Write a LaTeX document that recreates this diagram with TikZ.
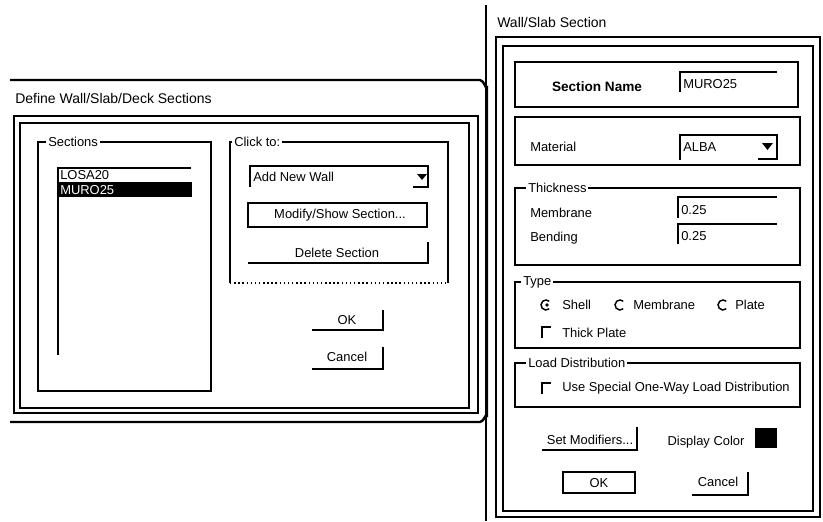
\documentclass[tikz,border=0pt]{standalone}
\usepackage{fontspec}
\setmainfont{Liberation Sans}
\usepackage{tikz}

\begin{document}
\begin{tikzpicture}
  [x=0.75pt,y=-0.75pt,
   win/.style={draw,line width=1.8pt},
   frame/.style={draw,line width=1.1pt},
   edge/.style={draw,line width=1.3pt},
   txt/.style={font=\fontsize{9.7}{11}\selectfont,inner sep=0pt,anchor=west},
   grp/.style={txt,fill=white,inner xsep=1.5pt},
   ttl/.style={font=\fontsize{10.5}{12}\selectfont,inner sep=0pt,anchor=west},
   btn/.style={font=\fontsize{9.7}{11}\selectfont,inner sep=0pt}]
  \useasboundingbox (0,0) rectangle (823,521);

  % Define Wall/Slab/Deck Sections
  \draw[win] (10,80) -- (480,80) to[out=0,in=-90] (487,88) -- (487,415) to[out=90,in=0] (480,422) -- (10,422);
  \node[ttl] (title_define) at (15,98) {Define Wall/Slab/Deck Sections};
  \draw[frame] (14,116) rectangle (478,413);
  \draw[frame] (20,123) rectangle (469,408);

  \draw[frame] (38,142) rectangle (211,391);
  \node[grp] (lbl_sections) at (46,142) {Sections};
  \draw[edge] (58,355) -- (58,168) -- (191,168);
  \node[txt] (item_losa) at (60,175) {LOSA20};
  \fill (59,182) rectangle (192,197);
  \node[txt,text=white] (item_muro) at (60,190) {MURO25};

  \draw[frame] (230,283) -- (230,142) -- (448,142) -- (448,283);
  \draw[frame,dotted] (230,283) -- (448,283);
  \node[grp] (lbl_clickto) at (232,142) {Click to:};
  \draw[edge] (250,187) -- (250,166) -- (428,166) -- (428,187) -- (413,187);
  \fill (417,174) -- (427,174) -- (422,180) -- cycle;
  \node[txt] (combo_add) at (253,177) {Add New Wall};
  \draw[edge,line width=1.6pt] (248,203) rectangle (427,227);
  \node[btn] (btn_modify) at (340,215) {Modify/Show Section...};
  \draw[edge] (248,263) -- (428,263) -- (428,242);
  \node[btn] (btn_delete) at (337,253) {Delete Section};

  \draw[edge] (312,330) -- (383,330) -- (383,310);
  \node[btn] (btn_ok1) at (347,320) {OK};
  \draw[edge] (312,369) -- (383,369) -- (383,347);
  \node[btn] (btn_cancel1) at (347,357) {Cancel};

  % Wall/Slab Section
  \draw[win] (486,5) -- (486,521);
  \node[ttl] (title_wall) at (497,22) {Wall/Slab Section};
  \draw[frame] (496,37) rectangle (820,517);
  \draw[frame] (503,46) rectangle (813,511);

  \draw[frame] (515,62) rectangle (798,107);
  \node[btn,font=\fontsize{10.2}{12}\selectfont\bfseries] (lbl_name) at (597,87) {Section Name};
  \draw[edge] (680,92) -- (680,72) -- (777,72);
  \node[txt] (field_name) at (683,84) {MURO25};

  \draw[frame] (515,117) rectangle (800,165);
  \node[txt] (lbl_material) at (530,147) {Material};
  \draw[edge] (680,160) -- (680,135) -- (777,135) -- (777,159) -- (758,159);
  \fill (762,143) -- (773,143) -- (767.5,150) -- cycle;
  \node[txt] (combo_alba) at (683,147) {ALBA};

  \draw[frame] (515,188) rectangle (800,265);
  \node[grp] (lbl_thickness) at (526,188) {Thickness};
  \node[txt] (lbl_membrane) at (530,213) {Membrane};
  \draw[edge] (678,218) -- (678,197) -- (777,197);
  \node[txt] (field_membrane) at (681,210) {0.25};
  \node[txt] (lbl_bending) at (530,238) {Bending};
  \draw[edge] (678,244) -- (678,224) -- (777,224);
  \node[txt] (field_bending) at (681,236) {0.25};

  \draw[frame] (515,282) rectangle (800,348);
  \node[grp] (lbl_type) at (521,282) {Type};
  \draw[frame] ([shift={(50:5)}]546,305) arc[start angle=50,end angle=310,radius=5];
  \fill (547,305) circle[radius=1.8];
  \node[txt] (opt_shell) at (562,305) {Shell};
  \draw[frame] ([shift={(50:5)}]620,305) arc[start angle=50,end angle=310,radius=5];
  \node[txt] (opt_membrane) at (633,305) {Membrane};
  \draw[frame] ([shift={(50:5)}]723,305) arc[start angle=50,end angle=310,radius=5];
  \node[txt] (opt_plate) at (735,305) {Plate};
  \draw[edge] (542,338) -- (542,327) -- (551,327);
  \node[txt] (chk_thick) at (562,333) {Thick Plate};

  \draw[frame] (515,363) rectangle (800,407);
  \node[grp] (lbl_load) at (526,363) {Load Distribution};
  \draw[edge] (542,394) -- (542,383) -- (551,383);
  \node[txt] (chk_oneway) at (562,388) {Use Special One-Way Load Distribution};

  \draw[edge] (542,450) -- (637,450) -- (637,427);
  \node[btn] (btn_modifiers) at (590,440) {Set Modifiers...};
  \node[btn] (lbl_color) at (706,442) {Display Color};
  \fill (755,428) rectangle (777,448);

  \draw[edge,line width=1.6pt] (563,472) rectangle (635,493);
  \node[btn] (btn_ok2) at (599,483) {OK};
  \draw[edge] (692,495) -- (748,495) -- (748,472);
  \node[btn] (btn_cancel2) at (718,482) {Cancel};
\end{tikzpicture}
\end{document}
